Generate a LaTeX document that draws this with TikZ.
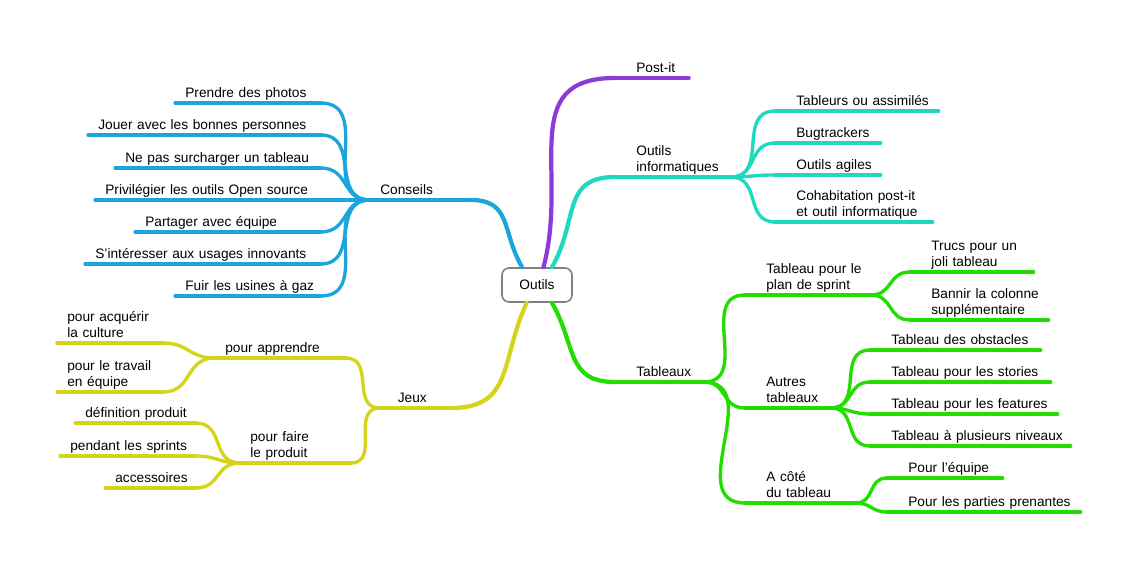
\documentclass[tikz,border=0pt]{standalone}
\usepackage{fontspec}
\setmainfont{Liberation Sans}
\usetikzlibrary{positioning}
\definecolor{cpurple}{HTML}{8C3BDB}
\definecolor{cteal}{HTML}{1FD9BE}
\definecolor{cgreen}{HTML}{22DD00}
\definecolor{cblue}{HTML}{1AA6DC}
\definecolor{cyellow}{HTML}{D4D418}
\newcommand\ml[1]{\begin{tabular}{@{}l@{}}#1\end{tabular}}
\begin{document}
\begin{tikzpicture}[x=0.02cm, y=-0.02cm, font=\fontsize{7.8}{9.3}\selectfont]

% Styles
\tikzset{
  lbl/.style={anchor=south west, inner xsep=0.2cm, inner ysep=0pt, align=left, text width=#1*0.02cm-0.4cm},
  rlbl/.style={lbl=#1, inner xsep=0.42cm, text width=#1*0.02cm-0.84cm},
  br/.style={line width=1.9pt, line cap=round, draw=#1},
  mbr/.style={line width=2.4pt, line cap=round, draw=#1},
  every to/.style={looseness=1.25},
}
\useasboundingbox (0,0) rectangle (1139,570);

% Centre
\node (outils) [draw=gray, line width=0.9pt, rounded corners=4pt, fill=white, minimum width=70*0.02cm, minimum height=34*0.02cm] at (537,285) {Outils};

% Right side
\node (postit) [rlbl=73] at (615,78) {\ml{Post-it}};
\node (info) [rlbl=115] at (615,177) {\ml{Outils\\informatiques}};
\node (tabl) [rlbl=88] at (615,382) {\ml{Tableaux}};

\node (tableurs) [rlbl=163] at (775,111) {\ml{Tableurs ou assimilés}};
\node (bug) [rlbl=105] at (775,143) {\ml{Bugtrackers}};
\node (agiles) [rlbl=105] at (775,175) {\ml{Outils agiles}};
\node (cohab) [rlbl=157] at (775,222) {\ml{Cohabitation post-it\\et outil informatique}};

\node (sprint) [rlbl=125] at (745,295) {\ml{Tableau pour le\\plan de sprint}};
\node (autres) [rlbl=85] at (745,408) {\ml{Autres\\tableaux}};
\node (cote) [rlbl=110] at (745,503) {\ml{A côté\\du tableau}};

\node (trucs) [rlbl=123] at (910,272) {\ml{Trucs pour un\\joli tableau}};
\node (bannir) [rlbl=138] at (910,320) {\ml{Bannir la colonne\\supplémentaire}};
\node (obst) [rlbl=170] at (870,350) {\ml{Tableau des obstacles}};
\node (stories) [rlbl=180] at (870,382) {\ml{Tableau pour les stories}};
\node (features) [rlbl=187] at (870,414) {\ml{Tableau pour les features}};
\node (niveaux) [rlbl=200] at (870,446) {\ml{Tableau à plusieurs niveaux}};
\node (equipe) [rlbl=115] at (887,478) {\ml{Pour l'équipe}};
\node (parties) [rlbl=193] at (887,512) {\ml{Pour les parties prenantes}};

% Left side
\node (conseils) [lbl=100] at (370,200) {\ml{Conseils}};
\node (photos) [lbl=145] at (175,103) {\ml{Prendre des photos}};
\node (jouer) [lbl=232] at (88,135) {\ml{Jouer avec les bonnes personnes}};
\node (surch) [lbl=205] at (115,168) {\ml{Ne pas surcharger un tableau}};
\node (privil) [lbl=225] at (95,200) {\ml{Privilégier les outils Open source}};
\node (partag) [lbl=185] at (135,232) {\ml{Partager avec équipe}};
\node (usages) [lbl=235] at (85,264) {\ml{S'intéresser aux usages innovants}};
\node (usines) [lbl=145] at (175,296) {\ml{Fuir les usines à gaz}};

\node (jeux) [lbl=70] at (380,408) {\ml{\hspace{0.15cm}Jeux}};
\node (appr) [lbl=130] at (215,358) {\ml{pour apprendre}};
\node (faire) [lbl=110] at (240,463) {\ml{pour faire\\le produit}};
\node (culture) [lbl=105] at (57,343) {\ml{pour acquérir\\la culture}};
\node (travail) [lbl=105] at (57,392) {\ml{pour le travail\\en équipe}};
\node (defin) [lbl=120] at (75,423) {\ml{définition produit}};
\node (pendant) [lbl=135] at (60,456) {\ml{pendant les sprints}};
\node (access) [lbl=90] at (105,488) {\ml{accessoires}};

% Underlines
\draw[mbr=cpurple] (postit.south west) -- (postit.south east);
\draw[mbr=cteal] (info.south west) -- (info.south east);
\draw[mbr=cgreen] (tabl.south west) -- (tabl.south east);
\draw[mbr=cblue] (conseils.south west) -- (conseils.south east);
\draw[mbr=cyellow] (jeux.south west) -- (jeux.south east);
\foreach \n in {tableurs,bug,agiles,cohab}
  \draw[br=cteal] (\n.south west) -- (\n.south east);
\foreach \n in {sprint,autres,cote,trucs,bannir,obst,stories,features,niveaux,equipe,parties}
  \draw[br=cgreen] (\n.south west) -- (\n.south east);
\foreach \n in {photos,jouer,surch,privil,partag,usages,usines}
  \draw[br=cblue] (\n.south west) -- (\n.south east);
\foreach \n in {appr,faire,culture,travail,defin,pendant,access}
  \draw[br=cyellow] (\n.south west) -- (\n.south east);

% Branches
\draw[mbr=cpurple] (outils.70) to[out=75, in=180] (postit.south west);
\draw[mbr=cteal] (outils.50) to[out=60, in=180] (info.south west);
\draw[mbr=cgreen] (outils.-50) to[out=-60, in=180] (tabl.south west);
\draw[mbr=cblue] (outils.130) to[out=120, in=0] (conseils.south east);
\draw[mbr=cyellow] (outils.-120) to[out=-115, in=0] (jeux.south east);

\foreach \n in {tableurs,bug,agiles,cohab}
  \draw[br=cteal] (info.south east) to[out=0, in=180] (\n.south west);
\foreach \n in {sprint,autres,cote}
  \draw[br=cgreen] (tabl.south east) to[out=0, in=180] (\n.south west);
\foreach \n in {trucs,bannir}
  \draw[br=cgreen] (sprint.south east) to[out=0, in=180] (\n.south west);
\foreach \n in {obst,stories,features,niveaux}
  \draw[br=cgreen] (autres.south east) to[out=0, in=180] (\n.south west);
\foreach \n in {equipe,parties}
  \draw[br=cgreen] (cote.south east) to[out=0, in=180] (\n.south west);
\foreach \n in {photos,jouer,surch,privil,partag,usages,usines}
  \draw[br=cblue] (conseils.south west) to[out=180, in=0] (\n.south east);
\foreach \n in {appr,faire}
  \draw[br=cyellow] (jeux.south west) to[out=180, in=0] (\n.south east);
\foreach \n in {culture,travail}
  \draw[br=cyellow] (appr.south west) to[out=180, in=0] (\n.south east);
\foreach \n in {defin,pendant,access}
  \draw[br=cyellow] (faire.south west) to[out=180, in=0] (\n.south east);

\end{tikzpicture}
\end{document}
